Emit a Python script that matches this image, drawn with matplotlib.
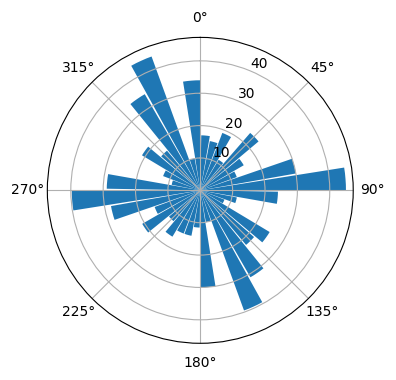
import numpy as np
import matplotlib
matplotlib.use("Agg")
import matplotlib.pyplot as plt

# counts per 10-degree direction bin, clockwise from north
counts = [17, 15.5, 19, 11, 23.5, 15.5, 12, 30, 45,
          24, 11.5, 8, 25, 22, 31, 39.5, 10, 30,
          11.5, 14.3, 14.3, 16.7, 12.6, 20.7, 15, 28, 39.7,
          28.9, 9, 12.3, 21, 16, 34.3, 44, 10, 34]
bin_deg = 10

n = len(counts)
theta = np.deg2rad(np.arange(n) * bin_deg + 5.5)
width = np.deg2rad(9)

fig = plt.figure(figsize=(3.96, 3.80), dpi=100)
ax = fig.add_axes([0.1194, 0.0966, 0.7727, 0.805], projection='polar')
ax.set_theta_zero_location('N')
ax.set_theta_direction(-1)
ax.bar(theta, counts, width=width)
ax.set_rticks([10, 20, 30, 40])

fig.savefig('out.png', dpi=100)
